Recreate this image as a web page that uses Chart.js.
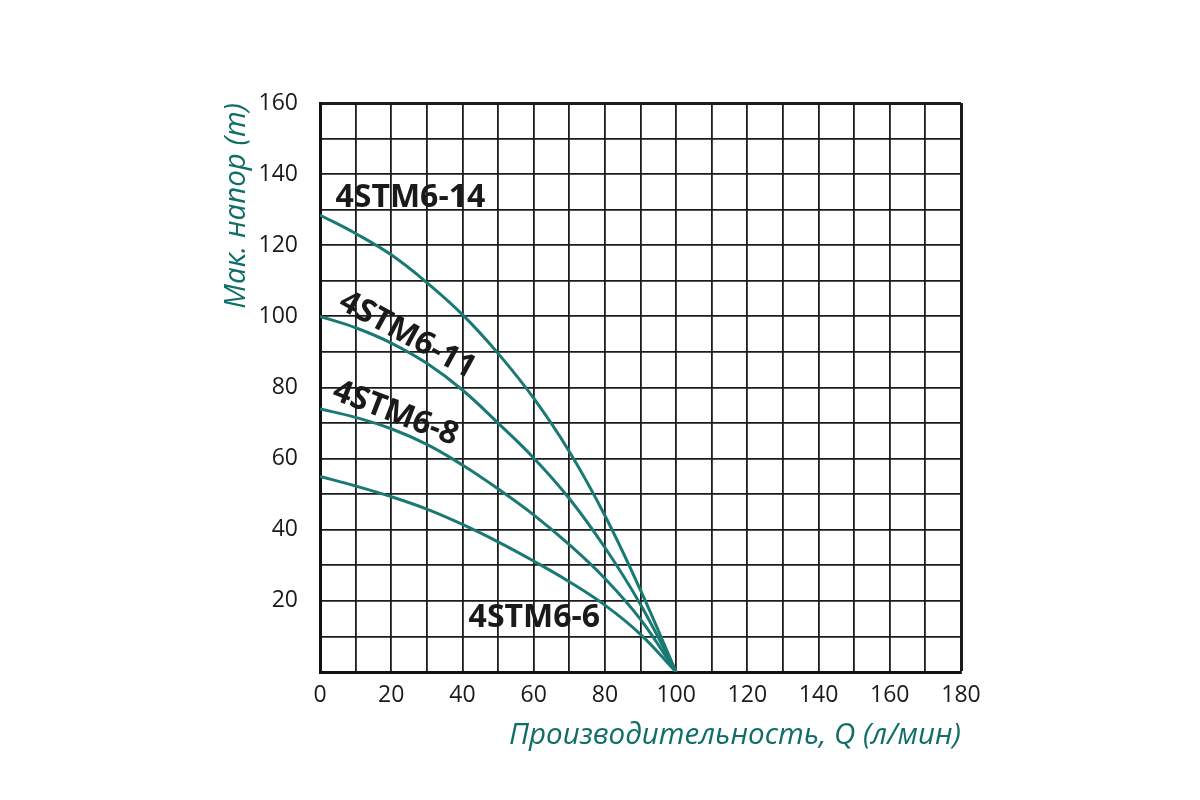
<!DOCTYPE html>
<html>
<head>
<meta charset="utf-8">
<script src="https://cdn.jsdelivr.net/npm/chart.js@4.4.1/dist/chart.umd.min.js"></script>
<style>
  html, body { margin: 0; background: #fff; }
  #wrap { width: 1200px; height: 800px; }
</style>
</head>
<body>
<div id="wrap"><canvas id="chart" width="1200" height="800"></canvas></div>
<script>
/* pump curves: head (m) vs flow Q (l/min) */
const FLOW = [0, 10, 20, 30, 40, 50, 60, 70, 80, 90, 100];
const HEAD_14 = [128.5, 123.3, 117.3, 109.5, 100.5, 89.6, 77, 62, 44, 23, 0];
const HEAD_11 = [100, 96.8, 92.5, 86.8, 79.3, 70, 60.2, 48.8, 35, 19, 0];
const HEAD_8  = [74, 71.6, 68.4, 64, 58.2, 51.5, 44.2, 35.8, 26.3, 14.8, 0];
const HEAD_6  = [55, 52.3, 49.3, 45.8, 41.5, 36.6, 31.2, 25.4, 18.8, 10.6, 0];
const MODELS = ['4STM6-14', '4STM6-11', '4STM6-8', '4STM6-6'];
const X_TITLE = 'Производительность, Q (л/мин)';
const Y_TITLE = 'Мак. напор (m)';

// where each curve name is written (data units) and its tilt
const LABEL_POS = [
  { x: 4.35, y: 133.4, rot: 0,    align: 'left' },
  { x: 24.5, y: 94.7,  rot: 28.5, align: 'center' },
  { x: 21.2, y: 72.7,  rot: 21,   align: 'center' },
  { x: 60.2, y: 15.1,  rot: 0,    align: 'center' }
];

const TEAL = '#1a7a73';
const TITLE_TEAL = '#0f6e68';
const GRID = '#1c1c1c';

const curveLabels = {
  id: 'curveLabels',
  afterDatasetsDraw(chart) {
    const { ctx, scales: { x, y } } = chart;
    ctx.save();
    ctx.fillStyle = '#1a1a1a';
    ctx.font = 'bold 32px "Open Sans", sans-serif';
    ctx.textBaseline = 'middle';
    MODELS.forEach((name, i) => {
      const p = LABEL_POS[i];
      ctx.save();
      ctx.translate(x.getPixelForValue(p.x), y.getPixelForValue(p.y));
      ctx.rotate(p.rot * Math.PI / 180);
      ctx.textAlign = p.align;
      ctx.fillText(name, 0, 0);
      ctx.restore();
    });
    ctx.restore();
  }
};

const series = [HEAD_14, HEAD_11, HEAD_8, HEAD_6];
const datasets = series.map((vals, i) => ({
  label: MODELS[i],
  data: FLOW.map((q, k) => ({ x: q, y: vals[k] })),
  borderColor: TEAL,
  borderWidth: 3,
  pointRadius: 0,
  fill: false,
  tension: 0.4
}));

new Chart(document.getElementById('chart'), {
  type: 'line',
  data: { datasets },
  plugins: [curveLabels],
  options: {
    responsive: false,
    animation: false,
    layout: { padding: { left: 200, right: 239, top: 103, bottom: 0 } },
    plugins: { legend: { display: false }, tooltip: { enabled: false } },
    scales: {
      x: {
        type: 'linear', min: 0, max: 180,
        afterFit: s => { s.height = 128; },
        grid: {
          color: GRID,
          lineWidth: c => (c.tick && c.tick.value === 180 ? 3 : 1.8),
          drawTicks: false
        },
        border: { color: '#111', width: 3 },
        ticks: {
          stepSize: 10, padding: 10, color: '#1a1a1a', maxRotation: 0, autoSkip: false,
          font: { family: '"Open Sans", sans-serif', size: 23 },
          callback: v => (v % 20 === 0 ? v : '')
        },
        title: {
          display: true, text: X_TITLE, align: 'end', color: TITLE_TEAL,
          font: { family: '"Open Sans", sans-serif', size: 29.5, style: 'italic' },
          padding: { top: 0, bottom: 47 }
        }
      },
      y: {
        min: 0, max: 160,
        afterFit: s => { s.width = 120; },
        grid: {
          color: GRID,
          lineWidth: c => (c.tick && c.tick.value === 160 ? 3 : 1.8),
          drawTicks: false
        },
        border: { color: '#111', width: 3 },
        ticks: {
          stepSize: 10, padding: 22, color: '#1a1a1a', autoSkip: false,
          font: { family: '"Open Sans", sans-serif', size: 23 },
          callback: v => (v % 20 === 0 && v !== 0 ? v : '')
        },
        title: {
          display: true, text: Y_TITLE, align: 'end', color: TITLE_TEAL,
          font: { family: '"Open Sans", sans-serif', size: 29.5, style: 'italic' },
          padding: { top: 19, bottom: 0 }
        }
      }
    }
  }
});
</script>
</body>
</html>
